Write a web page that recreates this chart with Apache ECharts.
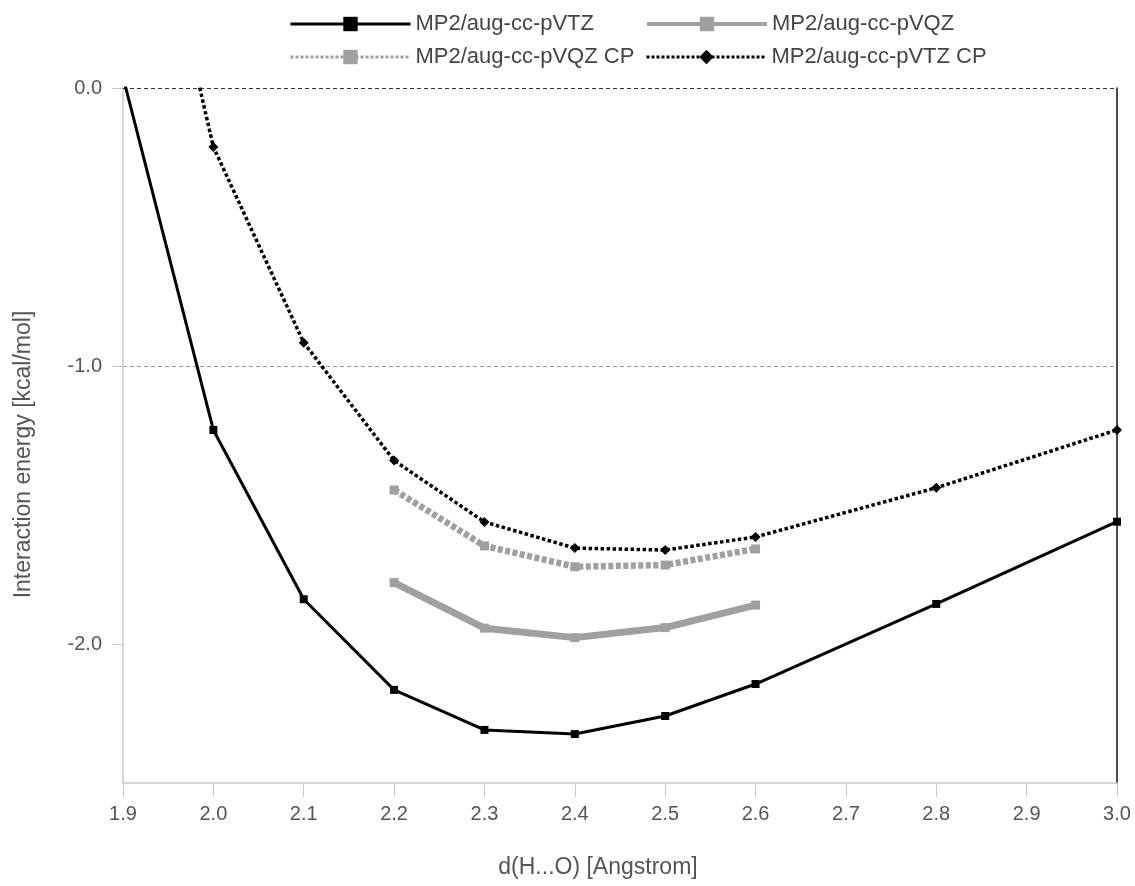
<!DOCTYPE html>
<html>
<head>
<meta charset="utf-8">
<script src="https://cdn.jsdelivr.net/npm/echarts@6/dist/echarts.min.js"></script>
<style>html,body{margin:0;padding:0;background:#fff}#c{width:1135px;height:886px}</style>
</head>
<body>
<div id="c"></div>
<script>
// ---- data ----
const xFull = [1.9, 2.0, 2.1, 2.2, 2.3, 2.4, 2.5, 2.6, 2.8, 3.0];
const xShort = [2.2, 2.3, 2.4, 2.5, 2.6];
const vtz   = [0.04, -1.23, -1.839, -2.165, -2.309, -2.324, -2.259, -2.144, -1.856, -1.56];
const vtzCP = [1.2, -0.212, -0.916, -1.34, -1.561, -1.655, -1.662, -1.615, -1.438, -1.23];
const vqz   = [-1.779, -1.943, -1.977, -1.941, -1.86];
const vqzCP = [-1.446, -1.647, -1.722, -1.716, -1.658];
const xTicks = [1.9, 2.0, 2.1, 2.2, 2.3, 2.4, 2.5, 2.6, 2.7, 2.8, 2.9, 3.0];
const yTicks = [-2, -1, 0];
const zeroLine = 0;
const names = ['MP2/aug-cc-pVTZ', 'MP2/aug-cc-pVQZ', 'MP2/aug-cc-pVQZ CP', 'MP2/aug-cc-pVTZ CP'];
const xTitle = 'd(H...O) [Angstrom]';
const yTitle = 'Interaction energy [kcal/mol]';

const zip = (xs, ys) => xs.map((x, i) => [x, ys[i]]);
const FONT = 'Liberation Sans, Arial, sans-serif';
const TXT = '#555';

function legend(name, left, top, lineStyle) {
  return {
    left: left, top: top, padding: 0, itemWidth: 120, itemHeight: 18, itemGap: 0,
    selectedMode: false,
    textStyle: { fontFamily: FONT, fontSize: 22, color: '#444' },
    data: [{ name: name, lineStyle: lineStyle }]
  };
}

const chart = echarts.init(document.getElementById('c'), null, { renderer: 'canvas' });
chart.setOption({
  backgroundColor: '#fff',
  animation: false,
  legend: [
    legend(names[0], 289, 13, { width: 3 }),
    legend(names[1], 645, 13, { width: 4 }),
    legend(names[2], 289, 46, { width: 3, type: [3, 2] }),
    legend(names[3], 645, 46, { width: 3, type: [3, 2] })
  ],
  grid: { left: 123, right: 18, top: 88, bottom: 103 },
  xAxis: {
    type: 'value', min: 1.9, max: 3.0,
    name: xTitle, nameLocation: 'middle', nameGap: 73,
    nameTextStyle: { fontFamily: FONT, fontSize: 23, color: TXT, padding: [0, 44, 0, 0] },
    axisLine: { show: true, onZero: false, lineStyle: { color: '#c8c8c8', width: 1.5 } },
    axisTick: { show: true, length: 14, customValues: xTicks, lineStyle: { color: '#c8c8c8' } },
    axisLabel: { customValues: xTicks, margin: 21, fontFamily: FONT, fontSize: 20, color: TXT,
      formatter: v => v.toFixed(1) },
    splitLine: { show: false }
  },
  yAxis: [{
    type: 'value', min: -2.5, max: 0,
    name: yTitle, nameLocation: 'middle', nameGap: 88,
    nameTextStyle: { fontFamily: FONT, fontSize: 23, color: TXT, padding: [0, 38, 0, 0] },
    axisLine: { show: true, onZero: false, lineStyle: { color: '#c8c8c8', width: 1.5 } },
    axisTick: { show: true, length: 11, customValues: yTicks, lineStyle: { color: '#c8c8c8' } },
    axisLabel: { customValues: yTicks, margin: 21, fontFamily: FONT, fontSize: 20, color: TXT,
      formatter: v => v.toFixed(1) },
    splitLine: { show: true, showMinLine: false,
      lineStyle: { color: '#999', type: [4, 3], width: 1 } }
  }, {
    type: 'value', min: -2.5, max: 0, position: 'right',
    axisLine: { show: true, onZero: false, lineStyle: { color: '#111', width: 1.5 } },
    axisTick: { show: false }, axisLabel: { show: false }, splitLine: { show: false }
  }],
  series: [{
    name: names[0], type: 'line', data: zip(xFull, vtz), clip: true,
    symbol: 'rect', symbolSize: 8, showAllSymbol: true,
    lineStyle: { color: '#000', width: 3 }, itemStyle: { color: '#000' }, z: 5,
    markLine: {
      silent: true, symbol: 'none', label: { show: false }, animation: false,
      lineStyle: { color: '#333', type: [4, 3], width: 1.2 },
      data: [{ yAxis: zeroLine }]
    }
  }, {
    name: names[1], type: 'line', data: zip(xShort, vqz), clip: true,
    symbol: 'rect', symbolSize: 9,
    lineStyle: { color: '#a0a0a0', width: 7 }, itemStyle: { color: '#a0a0a0' }, z: 3
  }, {
    name: names[2], type: 'line', data: zip(xShort, vqzCP), clip: true,
    symbol: 'rect', symbolSize: 9,
    lineStyle: { color: '#a0a0a0', width: 6.5, type: [5, 2.5] }, itemStyle: { color: '#a0a0a0' }, z: 3
  }, {
    name: names[3], type: 'line', data: zip(xFull, vtzCP), clip: true,
    symbol: 'diamond', symbolSize: 10,
    lineStyle: { color: '#000', width: 3.5, type: [3.5, 2.5] }, itemStyle: { color: '#000' }, z: 5
  }]
});
</script>
</body>
</html>
